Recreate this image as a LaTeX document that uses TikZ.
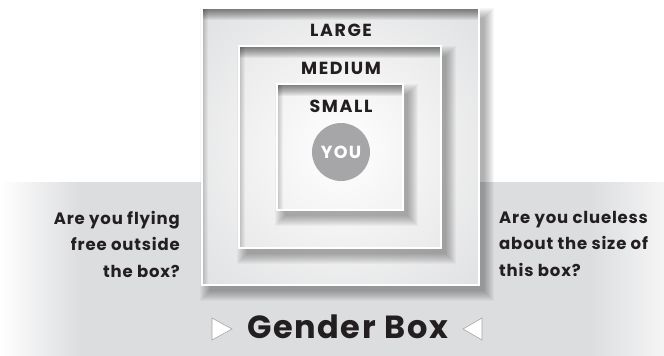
\documentclass[tikz,border=0pt]{standalone}
\usepackage{fontspec}
\setmainfont{Poppins}
\definecolor{bandgrey}{HTML}{DCDDDF}
\definecolor{boxgrey}{HTML}{D3D4D6}
\definecolor{ink}{HTML}{231F20}
\definecolor{yougrey}{HTML}{A6A6A8}
\newcommand\glowfill{\shade[inner color=white, outer color=boxgrey] (341,150) circle (280);}
\newcommand\gbox[4]{%
  % drop shadow
  \foreach \k in {0,...,10} {\fill[black,opacity=0.03] (#1+8-\k,#2+10-\k) rectangle (#3+5+\k,#4+6+\k);}
  \begin{scope}
    \clip (#1,#2) rectangle (#3,#4);
    \glowfill
    \foreach \k in {1,...,12} {\fill[black,opacity=0.05] (#1,#2) rectangle (#3,#2+\k);}
    \foreach \k in {1,...,6} {\fill[black,opacity=0.035] (#1,#2) rectangle (#1+\k,#4);}
  \end{scope}
  \draw[white, line width=2.2] (#1,#2) rectangle (#3,#4);
}
\tikzset{
  lbl/.style={font=\bfseries\fontsize{17.5}{18}\selectfont\addfontfeature{LetterSpace=9}, text=ink, inner sep=0pt},
  side/.style={font=\bfseries\fontsize{16.5}{26.5}\selectfont\addfontfeature{LetterSpace=5}, text=ink, inner sep=0pt},
  tri/.style={draw=gray!70, fill=white, line width=0.6, line join=miter}
}
\begin{document}
\begin{tikzpicture}[x=1pt,y=-1pt]
\useasboundingbox (0,0) rectangle (664,356);
\fill[white] (0,0) rectangle (664,356);
% grey band
\fill[bandgrey] (80,182) rectangle (590,356);
\shade[left color=white, right color=bandgrey] (0,182) rectangle (80.5,356);
\shade[left color=bandgrey, right color=white!70!bandgrey] (589.5,182) rectangle (664,356);
% boxes
\gbox{202}{8}{479}{285}
\gbox{239}{46}{441}{248}
\gbox{277}{84}{403}{210}
% labels
\node[lbl] (large) at (341,30) {LARGE};
\node[lbl] (medium) at (341,68) {MEDIUM};
\node[lbl] (small) at (341,106) {SMALL};
\node[circle, fill=yougrey, minimum size=58, inner sep=0pt, text=white,
      font=\bfseries\fontsize{17.5}{18}\selectfont\addfontfeature{LetterSpace=7}] (you) at (341,152) {YOU};
% side questions
\node[side, anchor=north east, align=right] (left) at (180,211) {Are you flying\\free outside\\the box?};
\node[side, anchor=north west, align=left] (right) at (499,211) {Are you clueless\\about the size of\\this box?};
% title
\node[font=\bfseries\fontsize{32}{34}\selectfont\addfontfeature{LetterSpace=5}, text=ink, inner sep=0pt] (title) at (347.5,327) {Gender Box};
\draw[tri] (212,318) -- (232,329) -- (212,340) -- cycle;
\draw[tri] (482,318) -- (463,329) -- (482,340) -- cycle;
\end{tikzpicture}
\end{document}
